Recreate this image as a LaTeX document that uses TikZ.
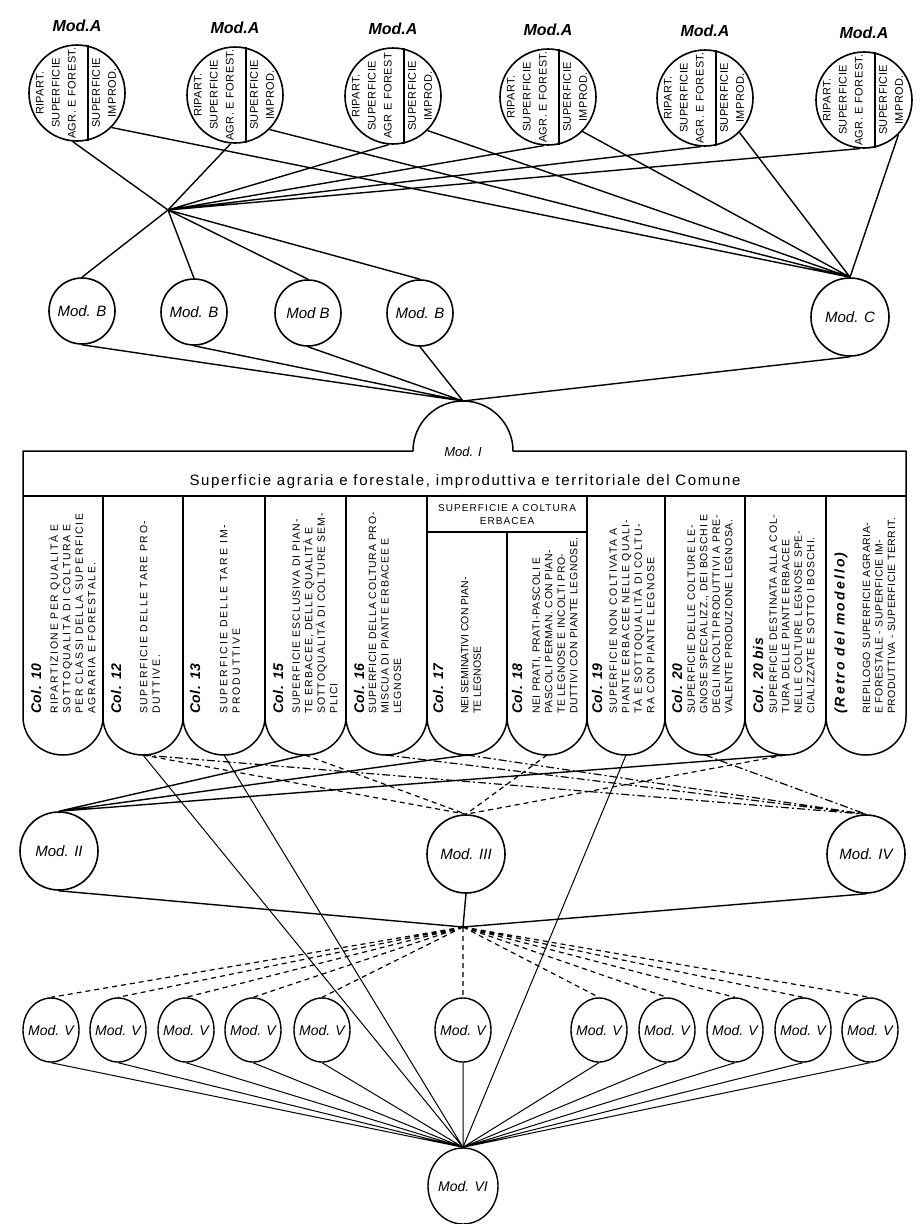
\documentclass[tikz,border=0pt]{standalone}
\usepackage{fontspec}
\setmainfont{Liberation Sans}
\usetikzlibrary{positioning,shapes.geometric}
\newcommand{\trk}[1]{\addfontfeature{LetterSpace=#1}}
\tikzset{
  modround/.style={draw,circle,line width=1.6pt,inner sep=0pt,font=\itshape\fontsize{15}{15}\selectfont},
  modoval/.style={draw,ellipse,line width=1.4pt,inner sep=0pt,font=\itshape\fontsize{14}{14}\selectfont},
  modalabel/.style={font=\bfseries\itshape\fontsize{16}{16}\selectfont,inner sep=0pt},
  halftext/.style={rotate=90,align=center,inner sep=0pt,font=\fontsize{11}{16}\selectfont\trk{4}},
  colhead/.style={rotate=90,anchor=west,inner sep=0pt,font=\bfseries\itshape\fontsize{14}{14}\selectfont\trk{#1}},
  colhead/.default=4,
  colbody/.style={rotate=90,anchor=west,align=left,inner sep=0pt,font=\fontsize{10.5}{12.5}\selectfont\trk{#1}},
  tableline/.style={line width=1.5pt,line join=round},
  wire/.style={line width=1.4pt},
  thinwire/.style={line width=1pt},
  dashwire/.style={line width=1.2pt,dash pattern=on 5pt off 4pt},
  dotwire/.style={line width=1.2pt,dash pattern=on 8pt off 3pt on 2pt off 3pt},
}

\begin{document}
\begin{tikzpicture}[x=1pt,y=-1pt]
\path[fill=white,use as bounding box] (0,0) rectangle (924,1224);

% Mod. A circles
\node[modround,minimum size=96pt] (a1) at (77,93) {};
\node[modround,minimum size=96pt] (a2) at (235,95) {};
\node[modround,minimum size=96pt] (a3) at (393,96) {};
\node[modround,minimum size=96pt] (a4) at (548,97) {};
\node[modround,minimum size=96pt] (a5) at (705,98) {};
\node[modround,minimum size=96pt] (a6) at (864,100) {};
\node[modalabel,above=12pt of a1] (la1) {Mod.A};
\node[modalabel,above=12pt of a2] (la2) {Mod.A};
\node[modalabel,above=12pt of a3] (la3) {Mod.A};
\node[modalabel,above=12pt of a4] (la4) {Mod.A};
\node[modalabel,above=12pt of a5] (la5) {Mod.A};
\node[modalabel,above=12pt of a6] (la6) {Mod.A};
\draw[tableline] (a1.77) -- (a1.-77) (a2.77) -- (a2.-77) (a3.77) -- (a3.-77)
  (a4.77) -- (a4.-77) (a5.77) -- (a5.-77) (a6.77) -- (a6.-77);
\node[halftext] (a1l) at ([xshift=-21pt]a1.center) {RIPART.\\SUPERFICIE\\AGR. E FOREST.};
\node[halftext] (a1r) at ([xshift=27pt]a1.center) {SUPERFICIE\\IMPROD.};
\node[halftext] (a2l) at ([xshift=-21pt]a2.center) {RIPART.\\SUPERFICIE\\AGR. E FOREST.};
\node[halftext] (a2r) at ([xshift=27pt]a2.center) {SUPERFICIE\\IMPROD.};
\node[halftext] (a3l) at ([xshift=-21pt]a3.center) {RIPART.\\SUPERFICIE\\AGR E FOREST};
\node[halftext] (a3r) at ([xshift=27pt]a3.center) {SUPERFICIE\\IMPROD.};
\node[halftext] (a4l) at ([xshift=-21pt]a4.center) {RIPART.\\SUPERFICIE\\AGR. E FOREST.};
\node[halftext] (a4r) at ([xshift=27pt]a4.center) {SUPERFICIE\\IMPROD.};
\node[halftext] (a5l) at ([xshift=-21pt]a5.center) {RIPART.\\SUPERFICIE\\AGR. E FOREST.};
\node[halftext] (a5r) at ([xshift=27pt]a5.center) {SUPERFICIE\\IMPROD.};
\node[halftext] (a6l) at ([xshift=-21pt]a6.center) {RIPART.\\SUPERFICIE\\AGR. E FOREST.};
\node[halftext] (a6r) at ([xshift=27pt]a6.center) {SUPERFICIE\\IMPROD.};

% Mod. B, Mod. C
\coordinate (hubA) at (168,210);
\node[modround,minimum size=66pt] (b1) at (82,311) {Mod. B};
\node[modround,minimum size=66pt] (b2) at (194,312) {Mod. B};
\node[modround,minimum size=66pt] (b3) at (308,313) {Mod B};
\node[modround,minimum size=66pt] (b4) at (420,313) {Mod. B};
\node[modround,minimum size=78pt] (mc) at (850,317) {Mod. C};

\draw[wire] (a1.-95) -- (hubA) (a2.-95) -- (hubA) (a3.-95) -- (hubA)
  (a4.-95) -- (hubA) (a5.-95) -- (hubA) (a6.-95) -- (hubA);
\draw[wire] (a1.-45) -- (mc.north) (a2.-45) -- (mc.north) (a3.-45) -- (mc.north)
  (a4.-45) -- (mc.north) (a5.-45) -- (mc.north) (a6.-45) -- (mc.north);
\draw[wire] (hubA) -- (b1.north) (hubA) -- (b2.north) (hubA) -- (b3.north) (hubA) -- (b4.north);

% Mod. I table
\coordinate (modItop) at (463,401);
\draw[wire] (b1.south) -- (modItop) (b2.south) -- (modItop) (b3.south) -- (modItop)
  (b4.south) -- (modItop) (mc.south) -- (modItop);
\draw[tableline] (23,717) -- (23,451) -- (413,451) .. controls (413,423.4) and (435.4,401) .. (463,401)
  .. controls (490.6,401) and (513,423.4) .. (513,451) -- (906,451) -- (906,717);
\draw[tableline] (23,496) -- (906,496) (427,532) -- (587,532);
\draw[tableline] (103,496) -- (103,717) (183,496) -- (183,717) (265,496) -- (265,717)
  (346,496) -- (346,717) (427,496) -- (427,717) (507,532) -- (507,717) (587,496) -- (587,717)
  (665,496) -- (665,717) (745,496) -- (745,717) (826,496) -- (826,717);
\draw[tableline] (23,717) .. controls (23,738) and (41,755) .. (63,755) .. controls (85,755) and (103,738) .. (103,717)
  .. controls (103,738) and (121,755) .. (143,755) .. controls (165,755) and (183,738) .. (183,717)
  .. controls (183,738) and (202,755) .. (224,755) .. controls (246,755) and (265,738) .. (265,717)
  .. controls (265,738) and (283,755) .. (305,755) .. controls (327,755) and (346,738) .. (346,717)
  .. controls (346,738) and (364,755) .. (386,755) .. controls (408,755) and (427,738) .. (427,717)
  .. controls (427,738) and (445,755) .. (467,755) .. controls (489,755) and (507,738) .. (507,717)
  .. controls (507,738) and (525,755) .. (547,755) .. controls (569,755) and (587,738) .. (587,717)
  .. controls (587,738) and (604,755) .. (626,755) .. controls (648,755) and (665,738) .. (665,717)
  .. controls (665,738) and (683,755) .. (705,755) .. controls (727,755) and (745,738) .. (745,717)
  .. controls (745,738) and (763,755) .. (785,755) .. controls (807,755) and (826,738) .. (826,717)
  .. controls (826,738) and (844,755) .. (866,755) .. controls (888,755) and (906,738) .. (906,717);
\node[font=\itshape\fontsize{13}{13}\selectfont,inner sep=0pt] (modI) at (463,452) {Mod. I};
\node[font=\fontsize{15}{15}\selectfont\trk{11},inner sep=0pt] (title) at (465,482)
  {Superficie agraria e forestale, improduttiva e territoriale del Comune};
\node[align=center,font=\fontsize{10}{13}\selectfont\trk{11},inner sep=0pt] (erb) at (507,515)
  {SUPERFICIE A COLTURA\\ERBACEA};

% columns
\node[colhead] (hd10) at (36,714) {Col. 10};
\node[colbody=15] (bd10) at (72,714) {RIPARTIZIONE PER QUALITÀ E\\SOTTOQUALITÀ DI COLTURA E\\PER CLASSI DELLA SUPERFICIE\\AGRARIA E FORESTALE.};
\node[colhead] (hd12) at (116,714) {Col. 12};
\node[colbody=15] (bd12) at (150,714) {SUPERFICIE DELLE TARE PRO-\\DUTTIVE.};
\node[colhead] (hd13) at (195,714) {Col. 13};
\node[colbody=19] (bd13) at (230,714) {SUPERFICIE DELLE TARE IM-\\PRODUTTIVE};
\node[colhead] (hd15) at (278,714) {Col. 15};
\node[colbody=10] (bd15) at (315,714) {SUPERFICIE ESCLUSIVA DI PIAN-\\TE ERBACEE, DELLE QUALITÀ E\\SOTTOQUALITÀ DI COLTURE SEM-\\PLICI};
\node[colhead] (hd16) at (359,714) {Col. 16};
\node[colbody=8] (bd16) at (385,714) {SUPERFICIE DELLA COLTURA PRO-\\MISCUA DI PIANTE ERBACEE E\\LEGNOSE};
\node[colhead] (hd17) at (438,714) {Col. 17};
\node[colbody=0] (bd17) at (471,714) {NEI SEMINATIVI CON PIAN-\\TE LEGNOSE};
\node[colhead] (hd18) at (517,714) {Col. 18};
\node[colbody=5] (bd18) at (555,714) {NEI PRATI, PRATI-PASCOLI E\\PASCOLI PERMAN. CON PIAN-\\TE LEGNOSE E INCOLTI PRO-\\DUTTIVI CON PIANTE LEGNOSE.};
\node[colhead] (hd19) at (597,714) {Col. 19};
\node[colbody=12] (bd19) at (632,714) {SUPERFICIE NON COLTIVATA A\\PIANTE ERBACEE NELLE QUALI-\\TÀ E SOTTOQUALITÀ DI COLTU-\\RA CON PIANTE LEGNOSE};
\node[colhead] (hd20) at (677,714) {Col. 20};
\node[colbody=7] (bd20) at (710,714) {SUPERFICIE DELLE COLTURE LE-\\GNOSE SPECIALIZZ., DEI BOSCHI E\\DEGLI INCOLTI PRODUTTIVI A PRE-\\VALENTE PRODUZIONE LEGNOSA.};
\node[colhead] (hd20b) at (758,714) {Col. 20 bis};
\node[colbody=7] (bd20b) at (792,714) {SUPERFICIE DESTINATA ALLA COL-\\TURA DELLE PIANTE ERBACEE\\NELLE COLTURE LEGNOSE SPE-\\CIALIZZATE E SOTTO I BOSCHI.};
\node[colhead=15] (hdre) at (841,714) {(Retro del modello)};
\node[colbody=5] (bdre) at (879,714) {RIEPILOGO SUPERFICIE AGRARIA-\\E FORESTALE - SUPERFICIE IM-\\PRODUTTIVA - SUPERFICIE TERRIT.};

\coordinate (col12) at (143,755);
\coordinate (col13) at (224,755);
\coordinate (col15) at (305,755);
\coordinate (col16) at (386,755);
\coordinate (col17) at (467,755);
\coordinate (col18) at (547,755);
\coordinate (col19) at (626,755);
\coordinate (col20) at (705,755);
\coordinate (col20b) at (785,755);

% Mod. II, III, IV
\node[modround,minimum size=78pt] (m2) at (59,851) {Mod. II};
\node[modround,minimum size=78pt] (m3) at (466,854) {Mod. III};
\node[modround,minimum size=78pt] (m4) at (866,854) {Mod. IV};
\draw[wire] (col15) -- (m2.north) (col17) -- (m2.north) (col20b) -- (m2.north);
\draw[dashwire] (col12) -- (m3.north) (col15) -- (m3.north) (col18) -- (m3.north) (col20b) -- (m3.north);
\draw[dotwire] (col12) -- (m4.north) (col16) -- (m4.north) (col17) -- (m4.north) (col20) -- (m4.north);

% Mod. V, VI
\coordinate (hubB) at (463,927);
\draw[wire] (m2.south) -- (hubB) (m3.south) -- (hubB) (m4.south) -- (hubB);
\node[modoval,minimum width=56pt,minimum height=64pt] (v1) at (51,1030) {\makebox[0pt]{Mod. V}};
\node[modoval,minimum width=56pt,minimum height=64pt] (v2) at (118,1030) {\makebox[0pt]{Mod. V}};
\node[modoval,minimum width=56pt,minimum height=64pt] (v3) at (186,1030) {\makebox[0pt]{Mod. V}};
\node[modoval,minimum width=56pt,minimum height=64pt] (v4) at (253,1030) {\makebox[0pt]{Mod. V}};
\node[modoval,minimum width=56pt,minimum height=64pt] (v5) at (322,1030) {\makebox[0pt]{Mod. V}};
\node[modoval,minimum width=56pt,minimum height=64pt] (v6) at (463,1030) {\makebox[0pt]{Mod. V}};
\node[modoval,minimum width=56pt,minimum height=64pt] (v7) at (599,1030) {\makebox[0pt]{Mod. V}};
\node[modoval,minimum width=56pt,minimum height=64pt] (v8) at (667,1030) {\makebox[0pt]{Mod. V}};
\node[modoval,minimum width=56pt,minimum height=64pt] (v9) at (735,1030) {\makebox[0pt]{Mod. V}};
\node[modoval,minimum width=56pt,minimum height=64pt] (v10) at (803,1030) {\makebox[0pt]{Mod. V}};
\node[modoval,minimum width=56pt,minimum height=64pt] (v11) at (870,1030) {\makebox[0pt]{Mod. V}};
\node[modoval,minimum width=70pt,minimum height=76pt] (m6) at (463,1186) {\makebox[0pt]{Mod. VI}};
\draw[dashwire] (hubB) -- (v1.north) (hubB) -- (v2.north) (hubB) -- (v3.north) (hubB) -- (v4.north)
  (hubB) -- (v5.north) (hubB) -- (v6.north) (hubB) -- (v7.north) (hubB) -- (v8.north)
  (hubB) -- (v9.north) (hubB) -- (v10.north) (hubB) -- (v11.north);
\draw[thinwire] (v1.south) -- (m6.north) (v2.south) -- (m6.north) (v3.south) -- (m6.north)
  (v4.south) -- (m6.north) (v5.south) -- (m6.north) (v6.south) -- (m6.north) (v7.south) -- (m6.north)
  (v8.south) -- (m6.north) (v9.south) -- (m6.north) (v10.south) -- (m6.north) (v11.south) -- (m6.north);
\draw[thinwire] (col12) -- (m6.north) (col13) -- (m6.north) (col19) -- (m6.north);
\end{tikzpicture}
\end{document}
